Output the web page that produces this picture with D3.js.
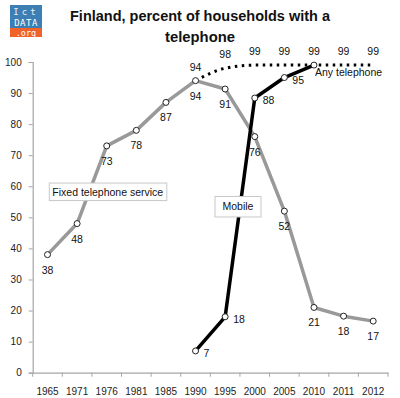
<!DOCTYPE html>
<html>
<head>
<meta charset="utf-8">
<script src="https://cdn.jsdelivr.net/npm/d3@7"></script>
<style>
  body { margin: 0; background: #fff; }
  svg { display: block; font-family: "Liberation Sans", Arial, sans-serif; }
</style>
</head>
<body>
<svg id="chart" width="400" height="398"></svg>
<script>
let years = ["1965", "1971", "1976", "1981", "1985", "1990", "1995", "2000", "2005", "2010", "2011", "2012"];
let fixedValues = [38, 48, 73, 78, 87, 94, 91.3, 76, 52, 21, 18.2, 16.6];
let mobileYears = ["1990", "1995", "2000", "2005", "2010"];
let mobileValues = [7, 18, 88.4, 95, 99];
let anyYears = ["1990", "1995", "2000", "2005", "2010", "2011", "2012"];
let anyValues = [94, 98, 99, 99, 99, 99, 99];
let yTicks = [0, 10, 20, 30, 40, 50, 60, 70, 80, 90, 100];

let svg = d3.select("#chart");

let x = d3.scaleBand()
    .domain(years)
    .range([32.7, 388])
    .padding(0);

let y = d3.scaleLinear()
    .domain([0, 100])
    .range([372.7, 62]);

let cx = d => x(d) + x.bandwidth() / 2;
let fmt = d3.format(".0f");

// logo
let logo = svg.append("g");
logo.append("rect").attr("x", 10).attr("y", 5).attr("width", 32).attr("height", 23).attr("fill", "#3d7fb4");
logo.append("rect").attr("x", 10).attr("y", 28).attr("width", 32).attr("height", 9).attr("fill", "#f0632a");
logo.append("text").attr("x", 26).attr("y", 15).attr("text-anchor", "middle")
    .attr("font-family", "DejaVu Sans Mono").attr("font-size", 9).attr("fill", "#e8eef5")
    .attr("letter-spacing", 3).text("Ict");
logo.append("text").attr("x", 26).attr("y", 26).attr("text-anchor", "middle")
    .attr("font-family", "DejaVu Sans Mono").attr("font-size", 9).attr("fill", "#ffffff")
    .attr("letter-spacing", 0.5).text("DATA");
logo.append("text").attr("x", 26).attr("y", 35.5).attr("text-anchor", "middle")
    .attr("font-family", "DejaVu Sans Mono").attr("font-size", 8.5).attr("fill", "#ffffff")
    .text(".org");

// title
let title = svg.append("text")
    .attr("text-anchor", "middle")
    .attr("font-weight", "bold")
    .attr("font-size", 15.5)
    .attr("fill", "#111");
title.append("tspan").attr("x", 200).attr("y", 21)
    .attr("textLength", 260).attr("lengthAdjust", "spacingAndGlyphs")
    .text("Finland, percent of households with a");
title.append("tspan").attr("x", 200).attr("y", 42)
    .attr("textLength", 70).attr("lengthAdjust", "spacingAndGlyphs")
    .text("telephone");

// y axis
let yAxis = svg.append("g")
    .attr("transform", "translate(32.7,0)")
    .call(d3.axisLeft(y).tickValues(yTicks).tickSize(4).tickPadding(7));
yAxis.select(".domain").attr("stroke", "#a6a6a6").attr("stroke-width", 1.2);
yAxis.selectAll(".tick line").attr("stroke", "#a6a6a6");
yAxis.selectAll(".tick text").attr("font-size", 10).attr("fill", "#222")
    .attr("font-family", "Liberation Sans, Arial, sans-serif");

// x axis
let xAxis = svg.append("g")
    .attr("transform", "translate(0,372.7)")
    .call(d3.axisBottom(x).tickSize(0).tickPadding(15));
xAxis.select(".domain").attr("stroke", "#a6a6a6").attr("stroke-width", 1.2);
xAxis.selectAll(".tick text").attr("font-size", 10).attr("fill", "#222")
    .attr("font-family", "Liberation Sans, Arial, sans-serif");
xAxis.selectAll(".sep")
    .data(years.concat(["end"]))
    .enter().append("line")
    .attr("class", "sep")
    .attr("x1", (d, i) => x.range()[0] + i * x.step())
    .attr("x2", (d, i) => x.range()[0] + i * x.step())
    .attr("y1", 0).attr("y2", 4)
    .attr("stroke", "#a6a6a6");

// lines
let fixedData = years.map((d, i) => ({year: d, value: fixedValues[i]}));
let mobileData = mobileYears.map((d, i) => ({year: d, value: mobileValues[i]}));
let anyData = anyYears.map((d, i) => ({year: d, value: anyValues[i]}));

let line = d3.line().x(d => cx(d.year)).y(d => y(d.value));
let smooth = d3.line().x(d => cx(d.year)).y(d => y(d.value)).curve(d3.curveMonotoneX);

svg.append("path")
    .datum(anyData)
    .attr("d", smooth)
    .attr("fill", "none")
    .attr("stroke", "#000")
    .attr("stroke-width", 3)
    .attr("stroke-dasharray", "2.5,4.5");

svg.append("path")
    .datum(fixedData)
    .attr("d", line)
    .attr("fill", "none")
    .attr("stroke", "#999999")
    .attr("stroke-width", 3.5)
    .attr("stroke-linejoin", "round");

svg.append("path")
    .datum(mobileData)
    .attr("d", line)
    .attr("fill", "none")
    .attr("stroke", "#000")
    .attr("stroke-width", 3.5)
    .attr("stroke-linejoin", "round");

// markers
svg.selectAll(".fixed-dot")
    .data(fixedData)
    .enter().append("circle")
    .attr("cx", d => cx(d.year)).attr("cy", d => y(d.value)).attr("r", 3)
    .attr("fill", "#fff").attr("stroke", "#222").attr("stroke-width", 1);

svg.selectAll(".mobile-dot")
    .data(mobileData)
    .enter().append("circle")
    .attr("cx", d => cx(d.year)).attr("cy", d => y(d.value)).attr("r", 3)
    .attr("fill", "#fff").attr("stroke", "#222").attr("stroke-width", 1);

// data labels
let labelFont = 10.5;
svg.selectAll(".fixed-label")
    .data(fixedData)
    .enter().append("text")
    .attr("x", d => cx(d.year)).attr("y", d => y(d.value) + 19)
    .attr("text-anchor", "middle").attr("font-size", labelFont).attr("fill", "#111")
    .text(d => fmt(d.value));

svg.selectAll(".mobile-label")
    .data(mobileData.filter(d => d.year !== "2010"))
    .enter().append("text")
    .attr("x", d => cx(d.year) + 8).attr("y", d => y(d.value) + 6)
    .attr("text-anchor", "start").attr("font-size", labelFont).attr("fill", "#111")
    .text(d => fmt(d.value));

svg.selectAll(".any-label")
    .data(anyData)
    .enter().append("text")
    .attr("x", d => cx(d.year)).attr("y", d => y(d.value) - 10)
    .attr("text-anchor", "middle").attr("font-size", labelFont).attr("fill", "#111")
    .text(d => fmt(d.value));

// series names
svg.append("text")
    .attr("x", cx("2010") + 1).attr("y", y(99) + 11)
    .attr("font-size", labelFont).attr("fill", "#111")
    .text("Any telephone");

let fixedBox = svg.append("g").attr("transform", "translate(49.3," + y(58.3) + ")");
fixedBox.append("rect").attr("x", 0).attr("y", -8.5).attr("width", 117.5).attr("height", 17.5)
    .attr("fill", "#fff").attr("stroke", "#c8c8c8");
fixedBox.append("text").attr("x", 3).attr("y", 4).attr("font-size", labelFont).attr("fill", "#111")
    .text("Fixed telephone service");

let mobileBox = svg.append("g").attr("transform", "translate(215," + y(53.5) + ")");
mobileBox.append("rect").attr("x", 0).attr("y", -10).attr("width", 46).attr("height", 20.5)
    .attr("fill", "#fff").attr("stroke", "#c8c8c8");
mobileBox.append("text").attr("x", 23).attr("y", 4).attr("text-anchor", "middle")
    .attr("font-size", labelFont).attr("fill", "#111")
    .text("Mobile");
</script>
</body>
</html>
